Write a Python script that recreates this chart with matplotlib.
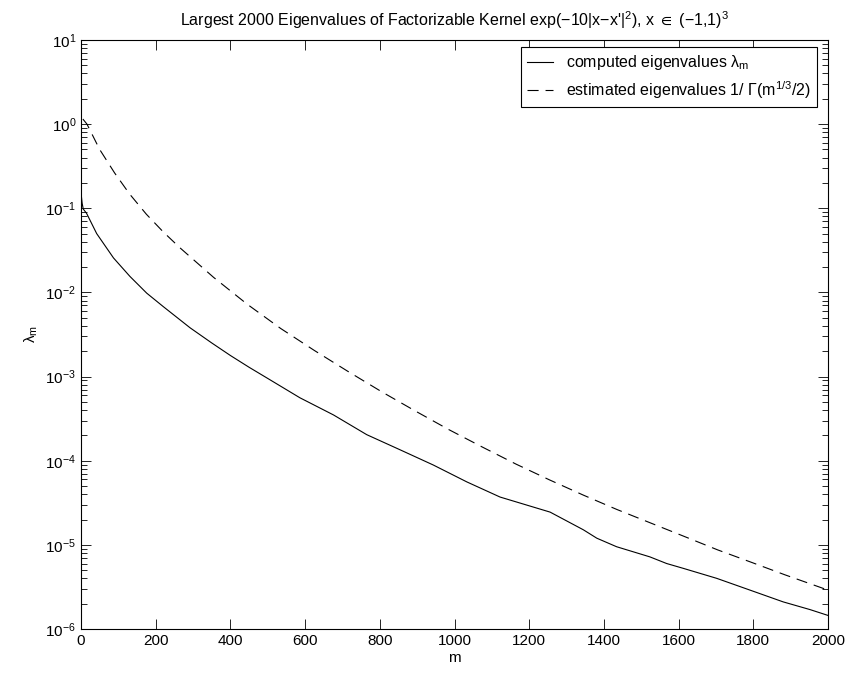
import numpy as np
import matplotlib
matplotlib.use('Agg')
import matplotlib.pyplot as plt

plt.rcParams['font.family'] = ['Liberation Sans', 'DejaVu Sans']
plt.rcParams['mathtext.fontset'] = 'custom'
plt.rcParams['mathtext.rm'] = 'Liberation Sans'
plt.rcParams['mathtext.it'] = 'Liberation Sans:italic'
plt.rcParams['mathtext.sf'] = 'Liberation Sans'
plt.rcParams['mathtext.fallback'] = 'stixsans'
plt.rcParams['lines.scale_dashes'] = False

# computed eigenvalues
m_computed = [1, 3, 6, 15, 42, 87, 131, 176, 220, 292, 350, 400, 450, 500, 586,
              676, 765, 854, 943, 1033, 1122, 1256, 1345, 1381, 1434, 1523,
              1568, 1613, 1702, 1791, 1880, 1952, 2000]
lam_computed = [0.14, 0.115, 0.098, 0.087, 0.050, 0.0257, 0.0155, 0.0098, 0.0068,
                0.0038, 0.00251, 0.00178, 0.00129, 9.5e-4, 5.6e-4, 3.5e-4, 2.04e-4,
                1.35e-4, 8.9e-5, 5.6e-5, 3.7e-5, 2.45e-5, 1.51e-5, 1.2e-5, 9.5e-6,
                7.2e-6, 6.0e-6, 5.25e-6, 4.0e-6, 2.9e-6, 2.1e-6, 1.7e-6, 1.45e-6]

# estimated eigenvalues
m_estimated = [5, 16, 50, 90, 130, 175, 220, 265, 355, 445, 535, 625, 715, 805,
               895, 985, 1075, 1165, 1255, 1345, 1435, 1525, 1615, 1705, 1795,
               1885, 2000]
lam_estimated = [1.15, 1.0, 0.50, 0.263, 0.148, 0.085, 0.0525, 0.0339, 0.0151,
                 0.00724, 0.00372, 0.00204, 0.00115, 6.6e-4, 3.9e-4, 2.34e-4,
                 1.45e-4, 9.1e-5, 5.9e-5, 3.9e-5, 2.63e-5, 1.82e-5, 1.26e-5,
                 8.7e-6, 6.2e-6, 4.4e-6, 2.9e-6]

fig = plt.figure(figsize=(8.48, 6.73), dpi=100)
ax = fig.add_axes([81 / 848, 44 / 673, 747 / 848, 589 / 673])

ax.semilogy(m_computed, lam_computed, color='black', linewidth=0.8,
            label=r'computed eigenvalues λ$_{\mathrm{m}}$')
ax.semilogy(m_estimated, lam_estimated, color='black', linewidth=0.8,
            linestyle=(0, (8, 5)),
            label=r'estimated eigenvalues 1/ Γ(m$^{1/3}$/2)')

ax.set_xlim(0, 2000)
ax.set_ylim(1e-6, 1e1)
ax.set_xticks(np.arange(0, 2001, 200))
ax.set_yticks([10.0 ** k for k in range(-6, 2)])

ax.tick_params(which='both', direction='in', top=True, right=True, labelsize=11)
ax.tick_params(which='major', length=7, width=0.6)
ax.tick_params(which='minor', length=4, width=0.6)
for s in ax.spines.values():
    s.set_linewidth(0.8)

ax.set_xlabel('m', fontsize=11, labelpad=2)
ax.set_ylabel(r'λ$_{\mathrm{m}}$', fontsize=11)
ax.set_title(r"Largest 2000 Eigenvalues of Factorizable Kernel exp(−10|x−x'|$^{2}$), x $\in$ (−1,1)$^{3}$",
             fontsize=11.5, pad=10)

leg = ax.legend(loc='upper right', bbox_to_anchor=(0.985, 0.988), borderaxespad=0,
                fontsize=11.5, fancybox=False, framealpha=1, edgecolor='black',
                handlelength=1.6, handletextpad=0.8, labelspacing=0.4)
leg.get_frame().set_linewidth(0.8)

fig.savefig('out.png', dpi=100)
